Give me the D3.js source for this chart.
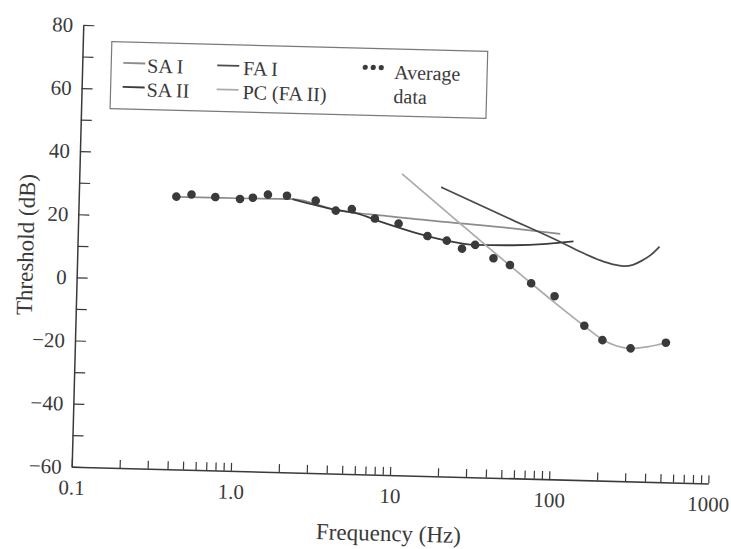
<!DOCTYPE html>
<html>
<head>
<meta charset="utf-8">
<script src="https://cdn.jsdelivr.net/npm/d3@7"></script>
<style>
  body { margin: 0; background: #fff; }
  text { font-family: "Liberation Serif", "Times New Roman", serif; }
</style>
</head>
<body>
<svg id="chart" width="731" height="549"></svg>
<script>
// average data (dots)
let avgFreq = [0.41, 0.51, 0.72, 1.03, 1.24, 1.54, 2.03, 3.08, 4.13, 5.21, 7.29, 10.3, 15.7, 20.8, 26.0, 31.4, 41.1, 52.3, 71.6, 101, 157, 205, 309, 514];
let avgThresh = [26.4, 27.2, 26.6, 26.2, 26.7, 27.8, 27.6, 26.3, 23.3, 23.9, 21.1, 19.7, 16.0, 14.7, 12.3, 13.6, 9.5, 7.5, 1.9, -2.0, -11.1, -15.5, -17.9, -15.8];

// channel curves
let saIFreq = [0.41, 1.0, 2.2, 4.2, 9.1, 21.7, 51.8, 107];
let saIThresh = [26.3, 26.4, 26.6, 23.5, 21.9, 20.5, 19.2, 17.8];

let saIIFreq = [2.2, 4.2, 5.6, 7.9, 15.7, 20.8, 31.4, 54.6, 88.5, 130];
let saIIThresh = [26.6, 23.5, 22.6, 20.2, 16.0, 14.7, 13.6, 13.8, 14.5, 15.5];

let faIFreq = [18.8, 50, 107, 144, 193, 235, 270, 310, 350, 400, 452];
let faIThresh = [31.6, 22.4, 15.3, 12.3, 9.7, 8.5, 8.1, 8.6, 9.9, 11.9, 14.6];

let pcFreq = [10.6, 25, 40, 71.6, 100, 157, 205, 250, 309, 400, 514];
let pcThresh = [35.5, 20.3, 12.0, 1.9, -3.8, -11.2, -15.3, -17.2, -17.9, -17.2, -15.8];

// axes
let xDecades = [0.1, 1, 10, 100, 1000];
let xTickLabels = ["0.1", "1.0", "10", "100", "1000"];
let yTicks = [-60, -50, -40, -30, -20, -10, 0, 10, 20, 30, 40, 50, 60, 70, 80];

let legendLabels = ["SA I", "FA I", "SA II", "PC (FA II)"];

let plotW = 636.8;
let plotH = 441.9;
let ink = "#3a3a3a";

let svg = d3.select("#chart");

// the scanned figure is tilted a little, so the whole plot sits in a rotated group
let g = svg.append("g")
    .attr("transform", "translate(71.7,466.7) rotate(1.5)");

let xScale = d3.scaleLog().domain([0.1, 1000]).range([0, plotW]);
let yScale = d3.scaleLinear().domain([-60, 80]).range([0, -plotH]);

let xAxis = d3.axisBottom(xScale)
    .tickValues(xScale.ticks())
    .tickSize(-8)
    .tickSizeOuter(0)
    .tickPadding(13)
    .tickFormat(d => {
        let i = xDecades.findIndex(v => Math.abs(v - d) < v * 1e-6);
        return i >= 0 ? xTickLabels[i] : "";
    });

let yAxis = d3.axisLeft(yScale)
    .tickValues(yTicks)
    .tickSize(-11)
    .tickSizeOuter(0)
    .tickPadding(10)
    .tickFormat(d => d % 20 === 0 ? d3.format("")(d) : "");

let gx = g.append("g").attr("color", ink).call(xAxis);
let gy = g.append("g").attr("color", ink).call(yAxis);

[gx, gy].forEach(a => {
    a.select(".domain").attr("stroke-width", 1.5);
    a.selectAll(".tick line").attr("stroke-width", 1.2);
    a.selectAll("text")
        .attr("font-family", "'Liberation Serif', serif")
        .attr("font-size", 21)
        .attr("fill", ink);
});

g.append("text")
    .attr("x", plotW / 2)
    .attr("y", 66)
    .attr("text-anchor", "middle")
    .attr("font-size", 23)
    .attr("fill", ink)
    .text("Frequency (Hz)");

g.append("text")
    .attr("transform", "translate(-44," + (-plotH / 2) + ") rotate(-90)")
    .attr("text-anchor", "middle")
    .attr("font-size", 23)
    .attr("fill", ink)
    .text("Threshold (dB)");

let line = d3.line()
    .x(d => xScale(d[0]))
    .y(d => yScale(d[1]))
    .curve(d3.curveMonotoneX);

let curves = [
    { f: saIFreq, t: saIThresh, color: "#8c8c8c", w: 1.7 },
    { f: saIIFreq, t: saIIThresh, color: "#3c3c3c", w: 1.8 },
    { f: faIFreq, t: faIThresh, color: "#4a4a4a", w: 1.8 },
    { f: pcFreq, t: pcThresh, color: "#ababab", w: 1.7 }
];

g.append("g").selectAll("path")
    .data(curves)
    .enter().append("path")
    .attr("d", c => line(c.f.map((f, i) => [f, c.t[i]])))
    .attr("fill", "none")
    .attr("stroke", c => c.color)
    .attr("stroke-width", c => c.w);

g.append("g").selectAll("circle")
    .data(avgFreq.map((f, i) => [f, avgThresh[i]]))
    .enter().append("circle")
    .attr("cx", d => xScale(d[0]))
    .attr("cy", d => yScale(d[1]))
    .attr("r", 4.3)
    .attr("fill", ink);

// legend
let legend = g.append("g").attr("transform", "translate(29,-426)");

legend.append("rect")
    .attr("width", 376)
    .attr("height", 67)
    .attr("fill", "#fff")
    .attr("stroke", "#7a7a7a")
    .attr("stroke-width", 1.2);

let legendPos = [[12, 0], [106, 0], [12, 1], [106, 1]];
let legendColors = ["#8c8c8c", "#4a4a4a", "#3c3c3c", "#ababab"];

legendLabels.forEach((label, i) => {
    let lx = legendPos[i][0];
    let ly = 21 + legendPos[i][1] * 24;
    legend.append("line")
        .attr("x1", lx).attr("x2", lx + 22)
        .attr("y1", ly).attr("y2", ly)
        .attr("stroke", legendColors[i])
        .attr("stroke-width", 1.8);
    legend.append("text")
        .attr("x", lx + (lx > 50 ? 26 : 24))
        .attr("y", ly + 9)
        .attr("font-size", 20)
        .attr("fill", ink)
        .text(label);
});

legend.append("g").selectAll("circle")
    .data([0, 1, 2])
    .enter().append("circle")
    .attr("cx", d => 254 + d * 8)
    .attr("cy", 19)
    .attr("r", 2.6)
    .attr("fill", ink);

legend.append("text")
    .attr("x", 283)
    .attr("y", 30)
    .attr("font-size", 20)
    .attr("fill", ink)
    .text("Average");

legend.append("text")
    .attr("x", 283)
    .attr("y", 54)
    .attr("font-size", 20)
    .attr("fill", ink)
    .text("data");
</script>
</body>
</html>
